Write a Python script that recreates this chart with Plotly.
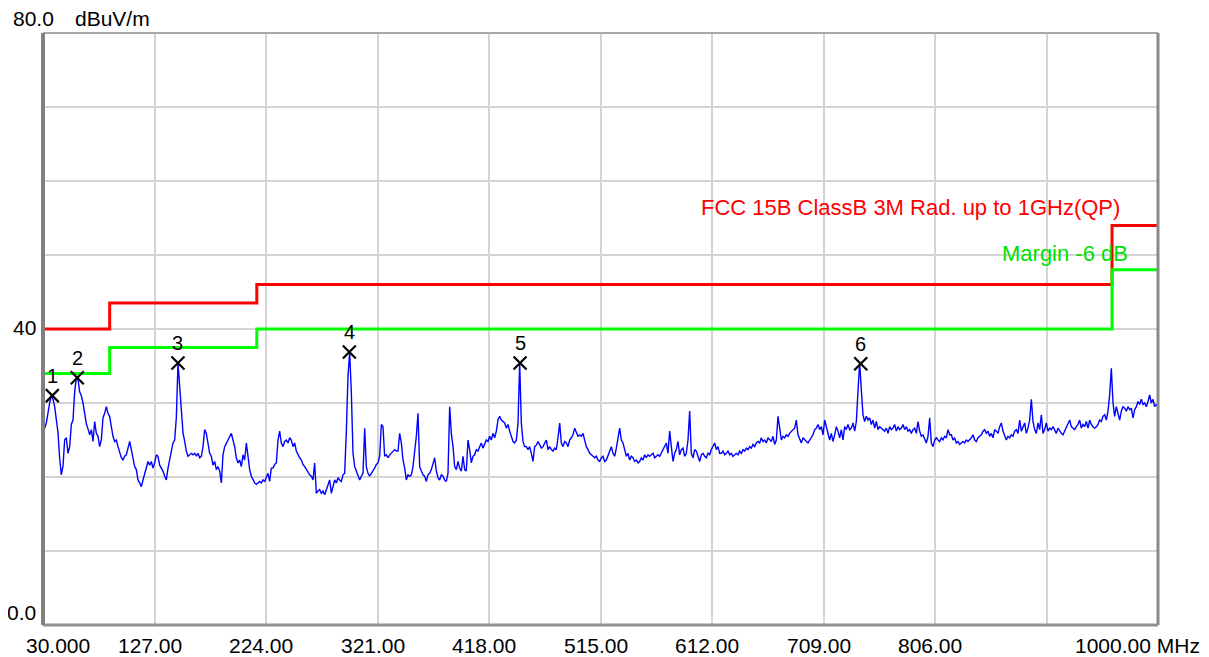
import numpy as np
import plotly.graph_objects as go

# ---------------- data ----------------
freq_start, freq_stop = 30.0, 1000.0  # MHz sweep

seg1 = [26.2, 26.6, 27.3, 28.9, 30.0, 31.0, 30.5, 29.5, 27.5, 26.0,
        22.5, 20.3, 21.5, 25.0, 25.3, 23.2, 24.1, 27.1, 27.7, 31.5,
        33.4, 33.2, 31.5, 31.0, 30.0, 28.5, 27.2, 26.5, 25.7, 26.4,
        24.8, 27.5, 25.9, 25.5, 24.1, 25.0, 28.0, 28.6, 29.5, 28.6,
        28.2, 26.8, 25.5, 24.8, 25.0, 24.1, 23.2, 22.6, 22.3, 22.8,
        23.0, 24.1, 24.8, 23.7, 22.3, 21.4, 21.0, 19.6, 19.2, 18.7,
        19.6, 20.5, 21.4, 22.1, 21.6, 22.1, 21.2, 21.9, 23.0, 22.8,
        21.6, 21.2, 20.8, 20.1, 19.6, 21.2, 22.3, 23.0, 24.6, 25.0,
        28.0, 35.4, 31.8, 28.6, 26.0, 24.8, 23.5, 22.8, 23.0, 23.2,
        23.0, 23.2, 22.8, 23.2, 22.6, 22.8, 24.1, 26.4, 25.9, 24.6,
        23.2, 22.8, 21.6, 22.1, 21.0, 21.4, 20.8, 19.2, 23.0, 24.1,
        24.6, 25.0, 25.5, 25.9, 25.0, 24.1, 22.6, 21.9, 22.3, 21.4,
        23.0, 22.3, 24.6, 22.8, 21.0, 20.1, 19.6, 19.2, 19.0, 19.2,
        19.4, 19.2, 19.6, 19.4, 20.1, 20.5, 19.4]
seg2 = [21.2, 21.2, 21.7, 21.9, 25.0, 26.2, 24.6, 24.1, 24.8, 25.0,
        24.6, 25.3, 25.0, 24.1, 24.6, 23.5, 23.0, 22.6, 22.3, 21.7,
        21.4, 21.0, 20.8, 20.3, 20.1, 19.6, 21.9, 17.8, 18.1, 18.3,
        17.8, 18.1, 17.6, 18.3, 18.7, 19.6, 17.8, 18.7, 19.6, 19.2,
        19.9, 19.6, 19.4, 20.3, 20.5, 26.2, 33.6, 36.9, 31.4, 23.2,
        21.4, 20.8, 20.3, 19.6, 20.1, 20.5, 26.6, 21.4, 20.5, 20.1,
        20.5, 20.8, 21.2, 21.7, 21.9, 22.8, 27.1, 26.8, 22.8, 23.0,
        22.6, 23.0, 23.2, 23.5, 23.7, 23.5, 23.5, 25.9, 24.6, 22.3,
        21.2, 19.6, 20.3, 20.1, 20.3, 21.4, 23.2, 25.5, 28.6, 21.4,
        20.8, 20.3, 20.1, 19.4, 20.3, 20.5, 21.0, 21.9, 22.6, 20.8,
        19.9, 19.6, 20.3, 20.1, 19.6, 19.4, 20.5, 29.5, 25.9, 24.1,
        21.4, 21.0, 22.1, 21.2, 20.8, 22.8, 21.0, 20.8, 25.0, 23.7,
        21.9, 22.8, 23.0, 23.7, 23.5, 24.1, 24.6, 23.9, 24.4, 25.0,
        24.8, 25.5, 25.0, 25.9, 25.3]
seg3 = [26.2, 27.7, 28.2, 27.7, 27.5, 27.3, 26.6, 27.1, 26.2, 25.5,
        24.8, 24.6, 25.0, 27.3, 35.4, 27.3, 24.8, 24.1, 24.1, 23.7,
        24.1, 23.2, 22.1, 24.1, 24.3, 24.8, 24.4, 23.9, 24.1, 24.6,
        25.0, 23.7, 24.1, 23.7, 23.5, 23.9, 23.7, 25.3, 27.3, 24.6,
        24.1, 24.8, 24.6, 24.1, 25.0, 25.3, 25.7, 26.6, 25.9, 25.5,
        25.7, 25.5, 25.9, 25.0, 24.1, 23.7, 23.2, 23.0, 22.8, 22.6,
        22.8, 22.3, 22.1, 22.6, 22.8, 22.1, 22.3, 23.0, 23.7, 24.1,
        23.2, 22.8, 23.9, 25.0, 26.6, 25.0, 24.6, 23.7, 22.8, 23.2,
        22.3, 22.8, 22.6, 22.1, 22.3, 21.9, 22.1, 22.6, 22.3, 23.0,
        22.6, 23.0, 22.8, 23.0, 23.2, 22.6, 22.8, 23.0, 22.8, 23.2,
        23.7, 24.1, 24.6, 23.2, 26.2, 24.1, 22.1, 23.2, 23.7, 24.8,
        23.0, 23.7, 23.9, 22.8, 23.2, 25.0, 28.9, 23.2, 22.6, 23.7,
        23.5, 22.8, 22.1, 23.0, 23.2, 22.8, 22.6, 23.2, 23.0, 23.7,
        24.1, 24.6, 23.7, 24.1, 23.2]
seg4 = [23.2, 23.5, 23.0, 23.2, 23.5, 23.0, 23.2, 22.8, 23.0, 23.2,
        23.0, 23.5, 23.2, 23.7, 23.5, 23.9, 23.7, 24.1, 23.9, 24.4,
        24.1, 24.6, 24.8, 24.6, 25.3, 24.8, 25.0, 24.6, 25.3, 25.0,
        24.8, 25.5, 24.4, 25.0, 28.2, 26.6, 25.0, 25.5, 25.3, 25.7,
        25.5, 25.9, 26.2, 26.4, 26.6, 27.7, 25.7, 25.0, 24.6, 25.3,
        25.0, 24.8, 24.6, 25.0, 25.3, 25.7, 26.4, 26.6, 27.1, 26.4,
        26.8, 25.7, 27.7, 26.8, 25.5, 25.0, 25.9, 24.8, 25.7, 26.8,
        26.2, 25.3, 26.4, 25.0, 26.8, 26.4, 27.1, 26.4, 26.6, 27.3,
        26.2, 27.5, 31.6, 35.4, 31.8, 28.4, 27.5, 28.2, 27.7, 28.0,
        27.1, 27.7, 26.6, 27.5, 26.4, 26.8, 26.6, 26.4, 26.2, 26.6,
        25.9, 26.8, 26.4, 26.6, 27.1, 26.2, 26.8, 26.4, 26.6, 27.1,
        26.4, 26.8, 26.2, 26.4, 25.9, 26.4, 26.6, 25.9, 27.5, 26.2,
        25.5, 25.7, 25.0, 24.6, 25.5, 28.0, 24.6, 24.1, 25.0, 25.3,
        25.0, 24.8, 25.3, 25.0, 25.5]
seg5 = [25.3, 26.4, 25.7, 25.7, 25.0, 25.3, 24.6, 24.8, 24.4, 24.6,
        24.8, 24.6, 25.0, 24.8, 25.0, 25.3, 25.7, 25.0, 24.8, 25.3,
        25.5, 25.7, 26.2, 26.4, 25.9, 26.2, 25.5, 25.9, 25.3, 26.4,
        26.2, 25.9, 26.8, 27.3, 26.2, 25.5, 25.0, 25.5, 25.3, 25.7,
        25.5, 26.2, 26.4, 25.9, 27.7, 26.2, 26.8, 27.3, 25.9, 26.6,
        27.7, 30.5, 27.5, 26.4, 25.9, 27.3, 26.4, 28.4, 25.9, 26.4,
        27.3, 26.2, 26.6, 26.4, 26.8, 26.4, 25.9, 26.6, 26.2, 25.9,
        25.7, 26.2, 26.6, 27.1, 27.7, 26.8, 26.6, 26.4, 26.8, 27.1,
        27.7, 26.6, 27.1, 26.8, 27.5, 26.6, 27.7, 27.1, 26.8, 26.6,
        26.8, 27.1, 27.7, 27.5, 28.2, 28.4, 27.7, 28.9, 31.1, 34.7,
        30.0, 28.2, 29.5, 28.4, 27.7, 28.9, 29.5, 29.3, 28.9, 29.5,
        29.1, 29.3, 28.0, 29.1, 29.5, 30.2, 29.8, 30.5, 29.8, 30.0,
        29.5, 30.2, 31.1, 30.0, 30.5, 29.5, 29.8, 29.6]
level = seg1 + seg2 + seg3 + seg4 + seg5

# limit lines (step edges in MHz, levels in dBuV/m)
limit_freq = [30, 88, 216, 960, 1000]
limit_level = [40, 43.5, 46, 54, 54]
margin_level = [34, 37.5, 40, 48, 48]
limit_name = "FCC 15B ClassB 3M Rad. up to 1GHz(QP)"
margin_name = "Margin -6 dB"

# peak markers
marker_freq = [38.1, 59.8, 147.4, 296.5, 445.0, 741.4]
marker_level = [31.0, 33.4, 35.4, 36.9, 35.4, 35.3]
marker_label = ["1", "2", "3", "4", "5", "6"]

# axes
grid_freq = [30, 127, 224, 321, 418, 515, 612, 709, 806, 903, 1000]
tick_freq = [30, 127, 224, 321, 418, 515, 612, 709, 806, 1000]
tick_text = ["30.000", "127.00", "224.00", "321.00", "418.00", "515.00",
             "612.00", "709.00", "806.00", "1000.00 MHz"]
y_min, y_max = 0, 80
y_tick_vals = [80, 40, 0]
y_tick_text = ["80.0", "40", "0.0"]
y_unit = "dBuV/m"

# ---------------- figure ----------------
freq = np.linspace(freq_start, freq_stop, len(level))
FONT = "Liberation Sans, Arial, sans-serif"

fig = go.Figure()
fig.add_trace(go.Scatter(x=limit_freq, y=limit_level, mode="lines", line_shape="hv",
                         line=dict(color="#ff0000", width=3), hoverinfo="skip"))
fig.add_trace(go.Scatter(x=limit_freq, y=margin_level, mode="lines", line_shape="hv",
                         line=dict(color="#00ff00", width=3), hoverinfo="skip"))
fig.add_trace(go.Scatter(x=freq, y=level, mode="lines",
                         line=dict(color="#0000ff", width=1.4)))
fig.add_trace(go.Scatter(x=marker_freq, y=marker_level, mode="markers",
                         marker=dict(symbol="x-thin-open", size=13, color="black",
                                     line=dict(color="black", width=2.2))))

ann = []
for f, v, t in zip(marker_freq, marker_level, marker_label):
    ann.append(dict(x=f, y=v, text=t, showarrow=False, yshift=20,
                    font=dict(family=FONT, size=20, color="black")))

for f, t in zip(tick_freq, tick_text):
    if f == freq_start:
        a = dict(xanchor="center", xshift=15)
    elif f == freq_stop:
        a = dict(xanchor="left", xshift=-85)
    else:
        a = dict(xanchor="center", xshift=-5)
    ann.append(dict(x=f, y=y_min, text=t, showarrow=False, yanchor="middle",
                    yshift=-20, font=dict(family=FONT, size=21, color="black"), **a))

for v, t in zip(y_tick_vals, y_tick_text):
    if v == y_max:
        ann.append(dict(x=freq_start, y=v, text=t, showarrow=False, xanchor="left",
                        xshift=-32, yanchor="middle", yshift=15,
                        font=dict(family=FONT, size=21, color="black")))
        ann.append(dict(x=freq_start, y=v, text=y_unit, showarrow=False, xanchor="left",
                        xshift=30, yanchor="middle", yshift=15,
                        font=dict(family=FONT, size=21, color="black")))
    else:
        ann.append(dict(x=freq_start, y=v, text=t, showarrow=False, xanchor="right",
                        xshift=-5, yanchor="middle", yshift=13 if v == y_min else 2,
                        font=dict(family=FONT, size=21, color="black")))

ann.append(dict(x=freq_stop, y=limit_level[-1], text=limit_name, showarrow=False,
                xanchor="right", xshift=-36, yanchor="middle", yshift=18,
                font=dict(family=FONT, size=22, color="#ff0000")))
ann.append(dict(x=freq_stop, y=margin_level[-1], text=margin_name, showarrow=False,
                xanchor="right", xshift=-28, yanchor="middle", yshift=16,
                font=dict(family=FONT, size=22, color="#00e000")))

shapes = [
    dict(type="line", xref="paper", yref="paper", x0=0, x1=1, y0=1, y1=1,
         line=dict(color="#a8a8a8", width=2)),
    dict(type="line", xref="paper", yref="paper", x0=1, x1=1, y0=0, y1=1,
         line=dict(color="#8a8a8a", width=3)),
    dict(type="line", xref="paper", yref="paper", x0=0, x1=1, y0=0, y1=0,
         line=dict(color="#909090", width=3)),
    dict(type="line", xref="paper", yref="paper", x0=0, x1=0, y0=0, y1=1,
         line=dict(color="#808080", width=4)),
]

# the page body adds an 8 px offset, so margins are set to land the plot
# area at the reference's pixel box
fig.update_layout(
    width=1209, height=657,
    margin=dict(l=35, r=59, t=25, b=40),
    paper_bgcolor="white", plot_bgcolor="white",
    showlegend=False,
    annotations=ann, shapes=shapes,
    xaxis=dict(range=[freq_start, freq_stop], tickmode="array", tickvals=grid_freq,
               showticklabels=False, ticks="", showgrid=True, gridcolor="#d4d4d4",
               gridwidth=2, zeroline=False, showline=False, fixedrange=True),
    yaxis=dict(range=[y_min, y_max], dtick=10, tick0=0, showticklabels=False, ticks="",
               showgrid=True, gridcolor="#d4d4d4", gridwidth=2, zeroline=False,
               showline=False, fixedrange=True),
)

fig.write_html("out.html")
